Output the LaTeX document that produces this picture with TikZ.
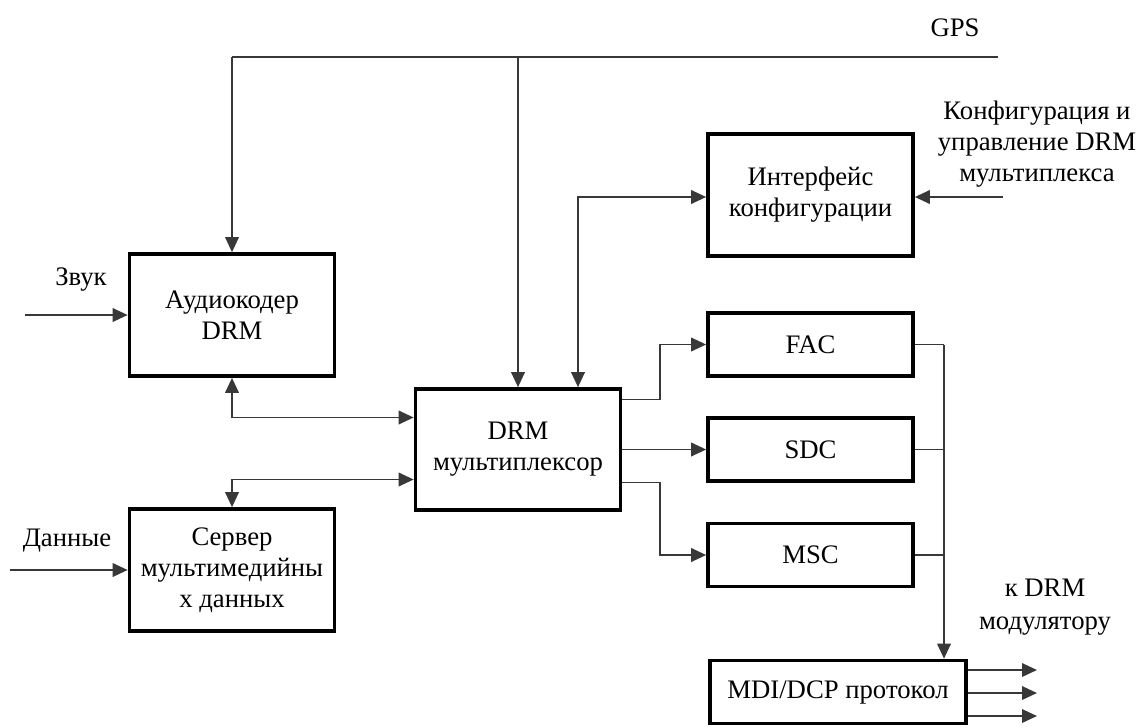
\documentclass[tikz,border=0pt]{standalone}
\usepackage{fontspec}
\setmainfont{Liberation Serif}
\usetikzlibrary{arrows.meta,calc}
\begin{document}
\begin{tikzpicture}[x=0.02cm,y=-0.02cm,
  font=\fontsize{15.2}{17.6}\selectfont,
  block/.style={draw=black,line width=2.1pt,fill=white,align=center,
    inner sep=0pt,minimum width=4.1cm},
  wire/.style={draw=black!78,line width=1.1pt},
  tip/.tip={Triangle[length=0.3cm,width=0.27cm]},
  arr/.style={wire,-tip},
  biarr/.style={wire,tip-tip},
  lbl/.style={align=center,inner sep=0pt}]
\useasboundingbox[fill=white] (0,0) rectangle (1138,727);

% blocks
\node[block,minimum height=2.44cm] (audio) at (232,315) {Аудиокодер\\DRM};
\node[block,minimum height=2.44cm] (server) at (232,570) {Сервер\\мультимедийны\\х данных};
\node[block,minimum height=2.42cm] (mux) at (518,449.5) {DRM\\мультиплексор};
\node[block,minimum height=2.44cm] (cfg) at (810.5,195) {Интерфейс\\конфигурации};
\node[block,minimum height=1.26cm] (fac) at (810.5,344.5) {FAC};
\node[block,minimum height=1.26cm] (sdc) at (810.5,449.5) {SDC};
\node[block,minimum height=1.26cm] (msc) at (810.5,555) {MSC};
\node[block,minimum height=1.26cm,minimum width=5.12cm] (mdi) at (838,692) {MDI/DCP протокол};

% labels
\node[lbl] (gps) at (955,28) {GPS};
\node[lbl] (snd) at (81,280) {Звук};
\node[lbl] (dat) at (67,541) {Данные};
\node[lbl] (cfgtxt) at (1037,144) {Конфигурация и\\управление DRM\\мультиплекса};
\node[lbl,font=\fontsize{15.2}{19}\selectfont] (mod) at (1045,607) {к DRM\\модулятору};

% GPS distribution
\coordinate (gpsL) at (232,57);
\coordinate (gpsM) at (518,57);
\coordinate (gpsR) at (998,57);
\draw[wire] (gpsL) -- (gpsR);
\draw[arr] (gpsL) -- (audio.north);
\draw[arr] (gpsM) -- (mux.north);

% configuration
\draw[biarr] ($(mux.north)+(60,0)$) |- ($(cfg.west)+(0,2)$);
\coordinate (cfgin) at (1003,197);
\draw[arr] (cfgin) -- (cfgin -| cfg.east);

% inputs
\coordinate (sndin) at (25,315);
\draw[arr] (sndin) -- (audio.west);
\coordinate (datin) at (10,570);
\draw[arr] (datin) -- (server.west);

% sources to multiplexer
\draw[biarr] (audio.south) |- ($(mux.west)+(0,-32)$);
\draw[biarr] (server.north) |- ($(mux.west)+(0,30)$);

% multiplexer to channels
\draw[arr] ($(mux.east)+(0,-50)$) -| ($(fac.west)+(-46,0)$) -- (fac.west);
\draw[arr] (mux.east) -- (sdc.west);
\draw[arr] ($(mux.east)+(0,33)$) -| ($(msc.west)+(-46,0)$) -- (msc.west);

% channels to MDI/DCP
\coordinate (bus) at (944,0);
\draw[wire] (fac.east) -- (fac.east -| bus);
\draw[wire] (sdc.east) -- (sdc.east -| bus);
\draw[wire] (msc.east) -- (msc.east -| bus);
\draw[arr] (fac.east -| bus) -- (bus |- mdi.north);

% MDI/DCP outputs
\coordinate (outx) at (1037,0);
\foreach \dy in {-22,1,24}{
  \coordinate (src) at ($(mdi.east)+(0,\dy)$);
  \draw[arr] (src) -- (src -| outx);
}
\end{tikzpicture}
\end{document}
